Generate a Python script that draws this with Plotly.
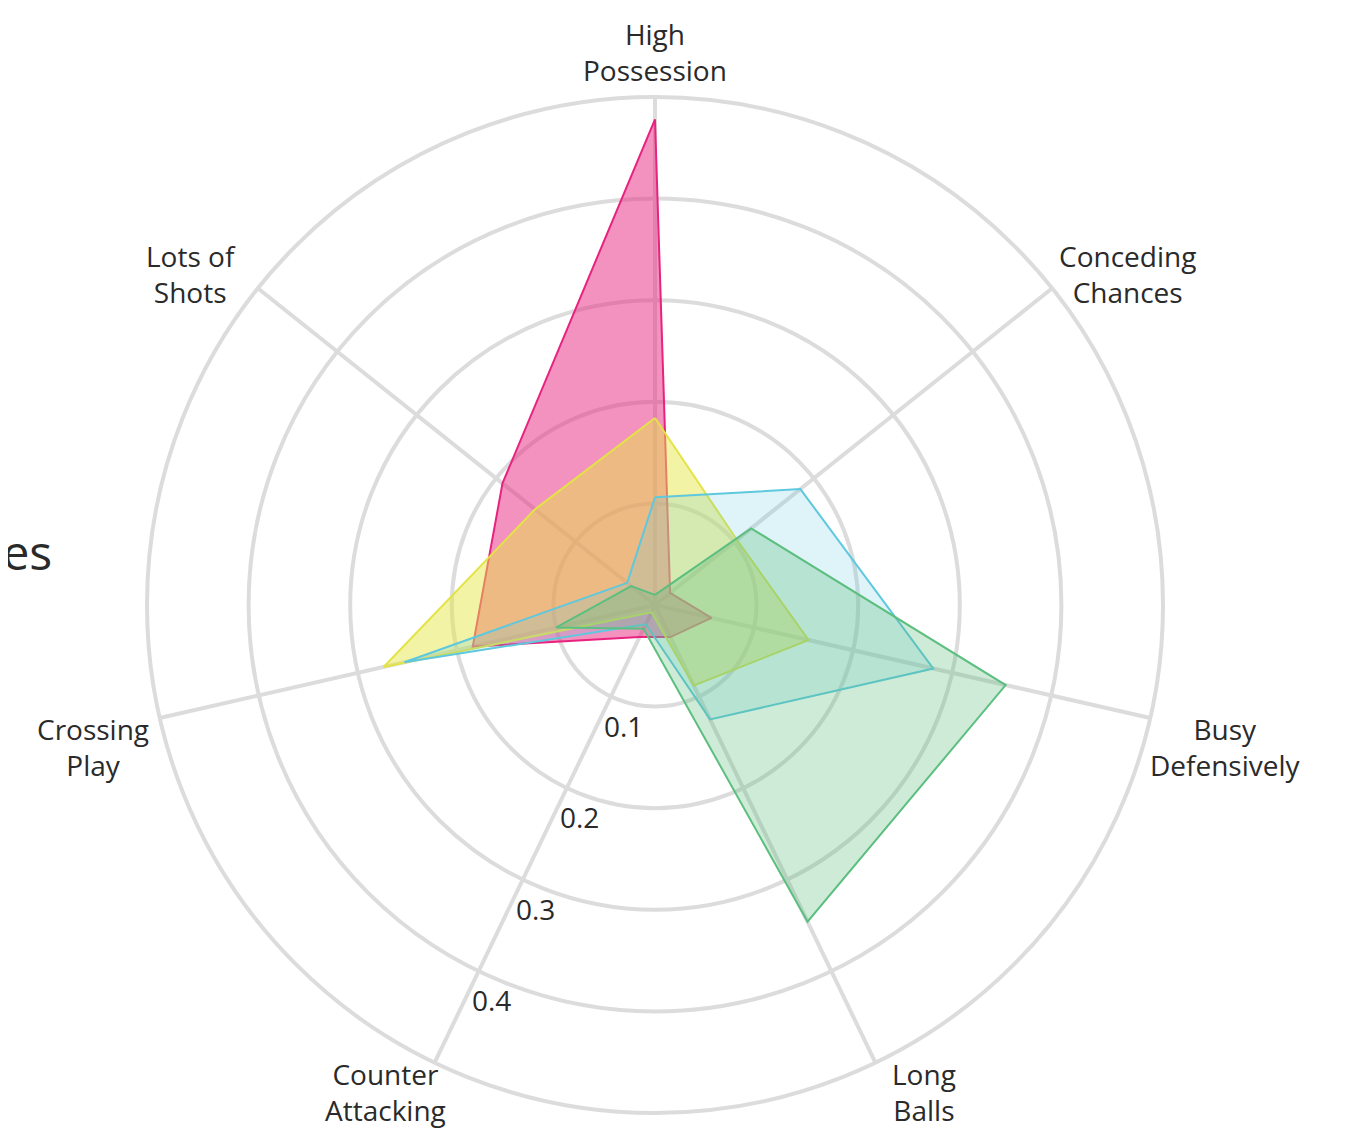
import math
import plotly.graph_objects as go

categories = ["High<br>Possession", "Conceding<br>Chances", "Busy<br>Defensively",
              "Long<br>Balls", "Counter<br>Attacking", "Crossing<br>Play", "Lots of<br>Shots"]

series_names = ["Style 1", "Style 2", "Style 3", "Style 4"]
pink = [0.478, 0.019, 0.057, 0.035, 0.035, 0.184, 0.192]
yellow = [0.184, 0.103, 0.155, 0.088, 0.008, 0.274, 0.151]
blue = [0.106, 0.183, 0.281, 0.125, 0.021, 0.253, 0.035]
green = [0.010, 0.121, 0.354, 0.346, 0.026, 0.100, 0.030]

radial_range = [0, 0.5]
radial_ticks = [0.1, 0.2, 0.3, 0.4]
radial_tick_text = ["0.1", "0.2", "0.3", "0.4"]
tick_axis_index = 4  # radial tick labels sit along "Counter Attacking"

line_colors = ["#e8227f", "#e3e346", "#5ec8de", "#5cbf7f"]
fill_colors = ["rgba(234,38,128,0.5)", "rgba(230,230,70,0.48)",
               "rgba(94,200,222,0.2)", "rgba(92,190,127,0.3)"]

FONT = "Open Sans, sans-serif"
TXT = "#2a2a2a"

fig = go.Figure()
for name, vals, lc, fc in zip(series_names, [pink, yellow, blue, green], line_colors, fill_colors):
    fig.add_trace(go.Scatterpolar(
        r=vals + vals[:1],
        theta=categories + categories[:1],
        mode="lines",
        fill="toself",
        fillcolor=fc,
        line=dict(color=lc, width=2),
        name=name,
        hoverinfo="skip",
    ))

grid = "#dcdcdc"
# page body has an 8px margin; compensate so the chart lands where intended
W, H = 1341, 1122
l, t = 139, 89
side = 1016
r_m = W - l - side
b_m = H - t - side
n = len(categories)

annotations = []

# category labels placed just outside the outer ring
for i, lab in enumerate(categories):
    a = math.radians(90 - i * 360 / n)
    c, s = math.cos(a), math.sin(a)
    x = 0.5 + 0.5 * c
    y = 0.5 + 0.5 * s
    side_dx = 75 if c > 0 else -67
    if s > 0.9:
        dx, dy = 0, 45
    elif s < -0.8:
        dx, dy = math.copysign(49, c), -29
    elif s > 0:
        dx, dy = side_dx, 14
    else:
        dx, dy = side_dx, -29
    annotations.append(dict(
        text=lab, xref="paper", yref="paper",
        x=x + dx / side, y=y + dy / side,
        xanchor="center", yanchor="middle", align="center", showarrow=False,
        font=dict(size=28, color=TXT, family=FONT),
    ))

# radial tick labels beside the Counter Attacking spoke
a = math.radians(90 - tick_axis_index * 360 / n)
for v, txt in zip(radial_ticks, radial_tick_text):
    f = (v - radial_range[0]) / (radial_range[1] - radial_range[0])
    annotations.append(dict(
        text=txt, xref="paper", yref="paper",
        x=0.5 + 0.5 * f * math.cos(a), y=0.5 + 0.5 * f * math.sin(a),
        xanchor="center", yanchor="middle", xshift=13, yshift=-29,
        showarrow=False, font=dict(size=28, color=TXT, family=FONT),
    ))

annotations.append(dict(
    text="Playing Styles", xref="paper", yref="paper",
    x=(46 - l) / side, y=(H - b_m - 543) / side,
    xanchor="right", yanchor="middle", showarrow=False,
    font=dict(size=48, color=TXT, family=FONT),
))

fig.update_layout(
    width=W, height=H,
    margin=dict(l=l, r=r_m, t=t, b=b_m),
    paper_bgcolor="white",
    showlegend=False,
    font=dict(family=FONT, color=TXT, size=26),
    polar=dict(
        bgcolor="white",
        domain=dict(x=[0, 1], y=[0, 1]),
        angularaxis=dict(
            rotation=90, direction="clockwise",
            linecolor=grid, linewidth=4,
            gridcolor=grid, gridwidth=4,
            showticklabels=False, ticks="",
        ),
        radialaxis=dict(
            range=radial_range,
            angle=90 - tick_axis_index * 360 / n,
            tickvals=radial_ticks,
            showline=False, ticks="", showticklabels=False,
            gridcolor=grid, gridwidth=4,
        ),
    ),
    annotations=annotations,
)

fig.write_html("out.html")
